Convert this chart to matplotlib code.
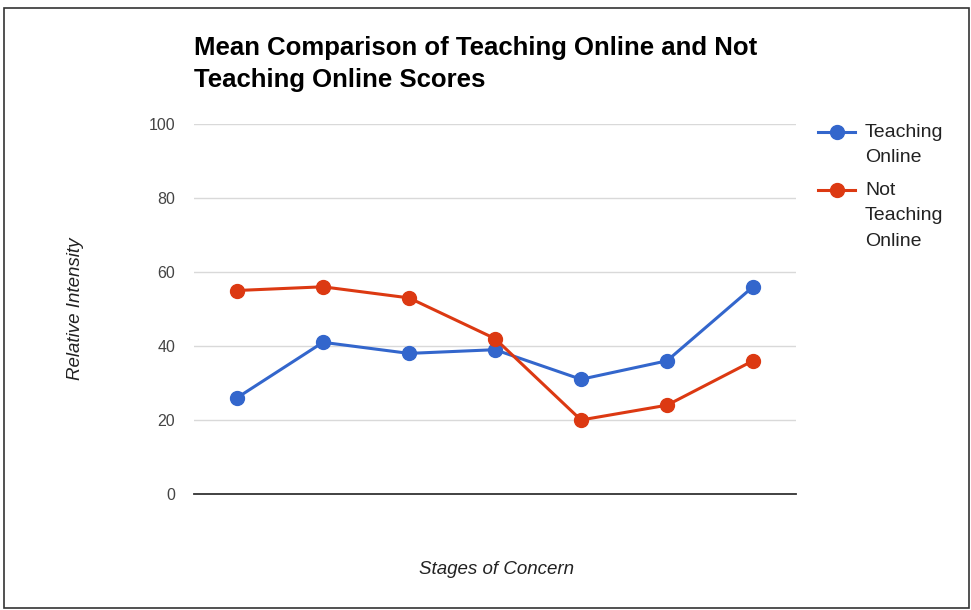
import matplotlib.pyplot as plt
from matplotlib.lines import Line2D
from matplotlib.patches import Rectangle

# stages of concern (no tick labels shown on the chart)
stages = [0, 1, 2, 3, 4, 5, 6]
teaching_online = [26, 41, 38, 39, 31, 36, 56]
not_teaching_online = [55, 56, 53, 42, 20, 24, 36]
series_names = ["Teaching\nOnline", "Not\nTeaching\nOnline"]
y_ticks = [0, 20, 40, 60, 80, 100]

blue = "#3366cc"
red = "#dc3912"

plt.rcParams['font.family'] = ['Liberation Sans', 'DejaVu Sans']

W, H = 971, 610
fig = plt.figure(figsize=(W / 100, H / 100), dpi=100)
ax = fig.add_axes([194 / W, 1 - 494 / H, (796 - 194) / W, (494 - 124) / H])

ax.plot(stages, teaching_online, color=blue, lw=2.2, marker='o', ms=10, zorder=3)
ax.plot(stages, not_teaching_online, color=red, lw=2.2, marker='o', ms=10, zorder=3)

ax.set_xlim(-0.5, 6.5)
ax.set_ylim(0, 100)
ax.set_yticks(y_ticks)
ax.set_xticks([])
ax.tick_params(axis='y', length=0, pad=13.5, labelsize=11.5, labelcolor='#444444')
ax.grid(axis='y', color='#d9d9d9', lw=1)
ax.set_axisbelow(True)
for s in ['top', 'right', 'left']:
    ax.spines[s].set_visible(False)
ax.spines['bottom'].set_color('#333333')
ax.spines['bottom'].set_linewidth(1.3)
ax.spines['bottom'].set_zorder(2)

fig.text(496 / W, 1 - 569 / H, "Stages of Concern", ha='center', va='center',
         style='italic', fontsize=13.5, color='#222222')
fig.text(75 / W, 1 - 309 / H, "Relative Intensity", ha='center', va='center',
         style='italic', fontsize=13.5, color='#222222', rotation=90)

fig.text(194 / W, 1 - 48 / H, "Mean Comparison of Teaching Online and Not",
         ha='left', va='center', fontsize=18.5, fontweight='bold', color='#000000')
fig.text(194 / W, 1 - 80 / H, "Teaching Online Scores",
         ha='left', va='center', fontsize=18.5, fontweight='bold', color='#000000')

# legend drawn by hand so the marker sits on the first text line
leg_y = [132, 190]
for name, col, y in zip(series_names, [blue, red], leg_y):
    fig.add_artist(Line2D([818 / W, 855 / W], [1 - y / H, 1 - y / H],
                          color=col, lw=2.2, transform=fig.transFigure))
    fig.add_artist(Line2D([836.5 / W], [1 - y / H], marker='o', ms=10,
                          color=col, transform=fig.transFigure))
    fig.text(865 / W, 1 - (y - 8) / H, name, ha='left', va='top',
             fontsize=14, color='#222222', linespacing=1.64)

# outer frame
fig.add_artist(Rectangle((4 / W, 1 - 608 / H), (969 - 4) / W, (608 - 8) / H,
                         transform=fig.transFigure, fill=False,
                         edgecolor='#333333', lw=1.2))

fig.savefig("out.png", dpi=100)
